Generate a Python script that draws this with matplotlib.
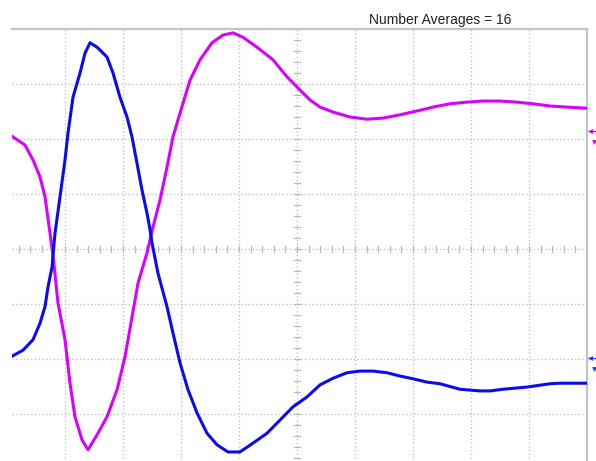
import matplotlib
matplotlib.use("Agg")
import matplotlib.pyplot as plt
import numpy as np

# ---- data (horizontal / vertical divisions) ----
ch_a_t = [0.086, 0.31, 0.448, 0.569, 0.655, 0.741, 0.793, 0.879, 1.0, 1.086, 1.172, 1.293,
          1.397, 1.552, 1.724, 1.897, 2.034, 2.155, 2.259, 2.414, 2.517, 2.638, 2.759, 2.862,
          2.983, 3.155, 3.328, 3.534, 3.724, 3.897, 4.069, 4.31, 4.586, 4.828, 5.052, 5.224,
          5.397, 5.621, 5.914, 6.207, 6.483, 6.776, 7.069, 7.345, 7.638, 7.931, 8.207, 8.5,
          8.793, 9.069, 9.362, 9.655, 9.983]
ch_a_v = [2.05, 1.89, 1.62, 1.31, 0.95, 0.29, -0.11, -0.98, -1.65, -2.44, -3.05, -3.47,
          -3.65, -3.38, -3.05, -2.56, -1.96, -1.24, -0.62, -0.07, 0.40, 0.89, 1.49, 2.04,
          2.47, 3.07, 3.44, 3.75, 3.89, 3.93, 3.85, 3.67, 3.44, 3.13, 2.89, 2.71,
          2.58, 2.49, 2.40, 2.36, 2.38, 2.44, 2.51, 2.58, 2.64, 2.67, 2.69, 2.69,
          2.67, 2.64, 2.60, 2.58, 2.56]

ch_b_t = [0.086, 0.276, 0.448, 0.569, 0.655, 0.707, 0.776, 0.793, 0.828, 0.914, 1.0, 1.052,
          1.138, 1.259, 1.345, 1.431, 1.552, 1.724, 1.828, 1.948, 2.069, 2.155, 2.241, 2.328,
          2.414, 2.466, 2.5, 2.603, 2.759, 2.862, 2.983, 3.121, 3.276, 3.448, 3.621, 3.81,
          4.017, 4.241, 4.483, 4.707, 4.931, 5.172, 5.397, 5.621, 5.862, 6.086, 6.31, 6.552,
          6.776, 7.0, 7.241, 7.466, 7.81, 8.155, 8.328, 8.552, 8.966, 9.362, 9.534, 9.983]
ch_b_v = [-1.95, -1.84, -1.65, -1.35, -1.05, -0.69, -0.33, -0.11, 0.29, 0.95, 1.62, 2.11,
          2.76, 3.20, 3.56, 3.75, 3.67, 3.49, 3.20, 2.76, 2.40, 2.04, 1.56, 1.07,
          0.65, 0.35, 0.11, -0.44, -1.05, -1.53, -2.07, -2.56, -2.98, -3.35, -3.56, -3.69,
          -3.69, -3.53, -3.35, -3.11, -2.87, -2.69, -2.47, -2.35, -2.25, -2.22, -2.22, -2.25,
          -2.31, -2.36, -2.42, -2.45, -2.55, -2.58, -2.58, -2.55, -2.51, -2.45, -2.44, -2.44]

ch_a_offset = 2.15
ch_b_offset = -1.98
title_text = "Number Averages = 16"

W, H = 596, 461
fig = plt.figure(figsize=(W / 100, H / 100), dpi=100)
fig.patch.set_facecolor("white")

ax = fig.add_axes([12 / W, (H - 469) / H, 575 / W, 440 / H])
ax.set_xlim(5 / 58, 10)
ax.set_ylim(-4, 4)
ax.set_xticks([])
ax.set_yticks([])
for s in ["left", "bottom"]:
    ax.spines[s].set_visible(False)
for s in ["top", "right"]:
    ax.spines[s].set_color("#c4c4c4")
    ax.spines[s].set_linewidth(1.6)

grid_kw = dict(color="#b8b8b8", lw=0.9, ls=(0, (1, 2)), zorder=1)
for gx in range(1, 10):
    ax.axvline(gx, **grid_kw)
for gy in range(-3, 4):
    ax.axhline(gy, **grid_kw)

# minor ticks on center lines
minor_x = np.arange(0, 10.01, 0.2)
for mx in minor_x:
    if mx > 0.09:
        ax.plot([mx, mx], [-0.06, 0.06], color="#b8b8b8", lw=0.9, zorder=1)
minor_y = np.arange(-4, 4.01, 0.2)
for my in minor_y:
    ax.plot([4.95, 5.05], [my, my], color="#b8b8b8", lw=0.9, zorder=1)

ax.plot(ch_a_t, ch_a_v, color="#d900ff", lw=2.2, zorder=3, solid_joinstyle="round")
ax.plot(ch_b_t, ch_b_v, color="#0a0af5", lw=2.2, zorder=4, solid_joinstyle="round")

# channel markers on right edge (drawn as small marks, outside the axes)
tr = ax.get_yaxis_transform()
for off, col in [(ch_a_offset, "#d900ff"), (ch_b_offset, "#1a3cff")]:
    ax.plot([1.004, 1.016], [off, off], color=col, lw=1.0, transform=tr, clip_on=False)
    ax.plot([1.006], [off], marker="<", ms=3.5, color=col, mew=0, transform=tr, clip_on=False)
    ax.plot([1.013], [off - 0.2], marker="v", ms=3.5, color=col, mew=0, transform=tr,
            clip_on=False)

fig.text(440 / W, 1 - 20 / H, title_text, ha="center", va="center",
         fontsize=10, color="#222222",
         family=["Liberation Sans Narrow", "Liberation Sans", "DejaVu Sans"])

fig.savefig("out.png", dpi=100, facecolor="white")
